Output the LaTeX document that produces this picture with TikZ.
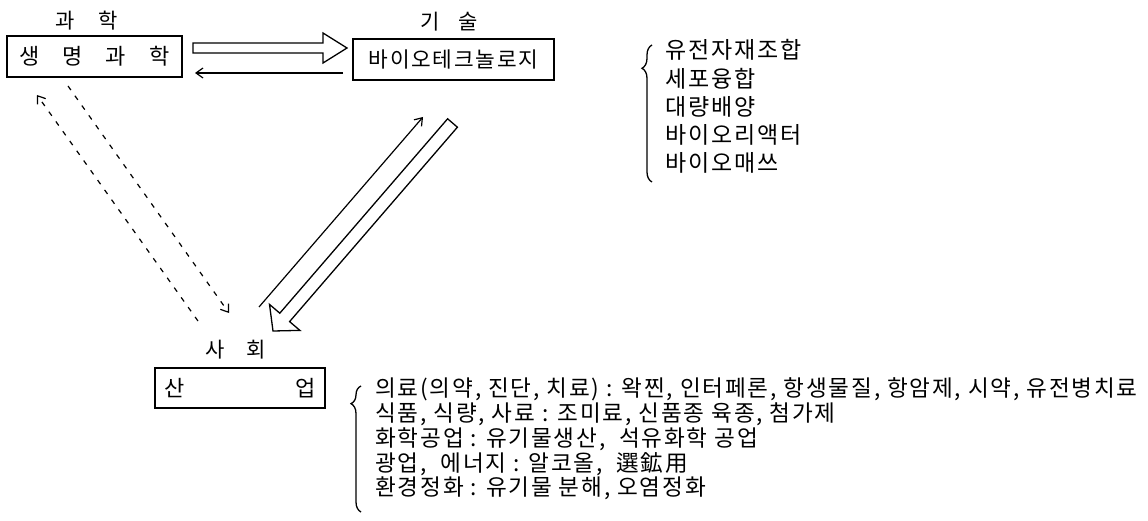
\documentclass[tikz,border=0pt]{standalone}
\usepackage{fontspec}
\setmainfont{Noto Sans CJK KR}
\newfontfamily\krls[LetterSpace=8]{Noto Sans CJK KR}
\usetikzlibrary{arrows.meta,decorations.pathreplacing}
\begin{document}
\begin{tikzpicture}[x=1pt,y=-1pt,
  box/.style={draw, line width=1.3pt, inner sep=0pt, font=\fontsize{22}{26}\selectfont},
  lbl/.style={inner sep=0pt, font=\fontsize{21}{24}\selectfont},
  item/.style={inner sep=0pt, anchor=west, text height=0.85em, text depth=0.1em, font=\krls\fontsize{23}{28}\selectfont},
  itemb/.style={inner sep=0pt, anchor=west, text height=0.85em, text depth=0.1em, font=\krls\fontsize{22.6}{25}\selectfont},
  conn/.style={line width=1.2pt, -{Straight Barb[length=7pt,width=10pt]}},
  dconn/.style={conn, dash pattern=on 5pt off 7pt},
  hollow/.style={draw, line width=1.3pt, line join=miter},
  curly/.style={draw, line width=1.3pt, decorate, decoration={brace, amplitude=10pt, aspect=#1}}
]
\useasboundingbox (0,0) rectangle (1148,521);

% main boxes
\node[box, minimum width=175pt, minimum height=41pt] (sci) at (94.5,56.5) {생\hspace{23pt}명\hspace{23pt}과\hspace{23pt}학};
\node[box, minimum width=201pt, minimum height=41pt, font=\krls\fontsize{21.4}{24}\selectfont] (bio) at (453.5,59.5) {바이오테크놀로지};
\node[box, minimum width=170pt, minimum height=40pt] (ind) at (240,388) {산\hspace{111pt}업};

% labels
\node[lbl] (lsci) at (87,21) {과\hspace{24pt}학};
\node[lbl] (ltech) at (449,22) {기\hspace{19pt}술};
\node[lbl] (lsoc) at (236,350) {사\hspace{22pt}회};

% horizontal connectors
\coordinate (h1s) at (193,48);
\coordinate (h1e) at (347,48);
\draw[hollow] (h1s) ++(0,-5) -- ++(130,0) -- ++(0,-10) -- (h1e) -- ++(-24,15) -- ++(0,-10) -- ++(-130,0) -- cycle;
\coordinate (h2s) at (343,73);
\coordinate (h2e) at (195,73);
\draw[conn] (h2s) -- (h2e);

% diagonal connectors
\coordinate (d1s) at (259,307);
\coordinate (d1e) at (423,117);
\draw[conn] (d1s) -- (d1e);
\draw[hollow] (447.6,118.8) -- (279.8,313.2) -- (269.5,304.4) -- (273,331) -- (299.9,330.4) -- (289.6,321.6) -- (457.4,127.2) -- cycle;

\coordinate (e1s) at (198,321);
\coordinate (e1e) at (37,95);
\draw[dconn] (e1s) -- (e1e);
\coordinate (e2s) at (68,86);
\coordinate (e2e) at (229,313);
\draw[dconn] (e2s) -- (e2e);

% technique list
\coordinate (br1a) at (652,182);
\coordinate (br1b) at (652,45);
\draw[curly=0.83] (br1a) -- (br1b);
\foreach \t [count=\i] in {유전자재조합,세포융합,대량배양,바이오리액터,바이오매쓰}
  \node[item] (t\i) at (665,{55+28.3*(\i-1)}) {\t};

% industry list
\coordinate (br2a) at (361,512);
\coordinate (br2b) at (361,386);
\draw[curly=0.86] (br2a) -- (br2b);
\foreach \t [count=\i] in {{의료(의약, 진단, 치료) : 왁찐, 인터페론, 항생물질, 항암제, 시약, 유전병치료},
  {식품, 식량, 사료 : 조미료, 신품종 육종, 첨가제},
  {화학공업 : 유기물생산,\ \ 석유화학 공업},
  {광업,\ \ 에너지 : 알코올,\ \ 選鉱用},
  {환경정화 : 유기물 분해, 오염정화}}
  \node[itemb] (b\i) at (375,{393+24.75*(\i-1)}) {\t};
\end{tikzpicture}
\end{document}
